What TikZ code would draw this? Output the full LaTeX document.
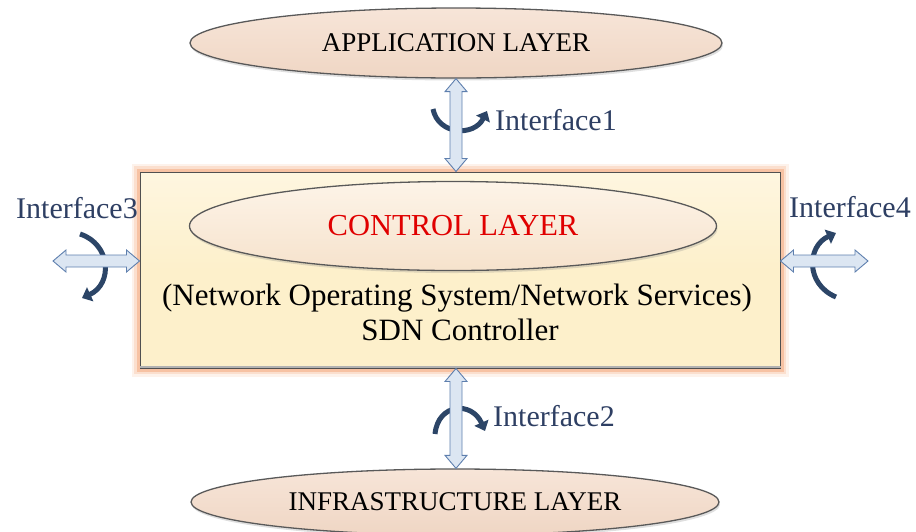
\documentclass[tikz,border=0pt]{standalone}
\usepackage{fontspec}
\setmainfont{Liberation Serif}
\usetikzlibrary{shapes.geometric,arrows.meta,shadows,calc,backgrounds}
\definecolor{ifacetext}{HTML}{2E3F63}
\definecolor{twist}{HTML}{2C4567}
\definecolor{arrowfill}{HTML}{DCE6F2}
\definecolor{arrowline}{HTML}{5E7FAE}
\definecolor{boxfill}{HTML}{FDF0CB}
\definecolor{boxline}{HTML}{505050}
\definecolor{glow}{HTML}{F4A678}
\definecolor{layertop}{HTML}{F7E5D8}
\definecolor{layerbot}{HTML}{EFD6C4}
\definecolor{ctltop}{HTML}{FDF4E8}
\definecolor{ctlbot}{HTML}{F6E2CC}
\definecolor{ctlred}{HTML}{E00000}

\begin{document}
\begin{tikzpicture}[x=1pt,y=-1pt,
  layer/.style={ellipse, draw=gray!70!black, line width=1.3pt, inner sep=0pt,
    top color=layertop, bottom color=layerbot,
    drop shadow={opacity=0.25, shadow xshift=1pt, shadow yshift=-2.5pt},
    font=\fontsize{27}{30}\selectfont},
  linkline/.style={draw=arrowline, fill=arrowfill, line width=0.9pt, line join=miter},
  twistarrow/.style={draw=twist, line width=5pt,
    -{Triangle[length=9pt,width=15pt]}},
  iface/.style={text=ifacetext, font=\fontsize{30}{33}\selectfont, inner sep=0pt},
  bodytext/.style={font=\fontsize{31}{33}\selectfont, inner sep=0pt}
]
\useasboundingbox (0,0) rectangle (916,531);
\clip (0,0) rectangle (916,531);

% application layer
\node[layer, minimum width=532pt, minimum height=70pt] (app) at (456,43) {APPLICATION LAYER};

% controller box with its orange glow
\node[draw=boxline, line width=1pt, top color=boxfill!60!white, bottom color=boxfill,
      middle color=boxfill, minimum width=640pt, minimum height=196pt,
      inner sep=0pt] (ctl) at (460,270) {};
\begin{scope}[on background layer]
  \foreach \w/\o in {16/0.15, 11/0.25, 6/0.5}
    \draw[glow, line width=\w pt, opacity=\o] (ctl.south west) rectangle (ctl.north east);
\end{scope}
\draw[gray!60, line width=2pt] ([yshift=1.5pt]ctl.south west) -- ([yshift=1.5pt]ctl.south east);

\node[layer, minimum width=527pt, minimum height=89pt, top color=ctltop, bottom color=ctlbot,
      text=ctlred, font=\fontsize{30.5}{32}\selectfont] (core) at (453,226) {CONTROL LAYER};
\node[bodytext] (nos) at (457,298) {(Network Operating System/Network Services)};
\node[bodytext] (sdn) at (460,330) {SDN Controller};

% infrastructure layer
\node[layer, minimum width=528pt, minimum height=66pt] (infra) at (455,502) {INFRASTRUCTURE LAYER};

% twisted arrows marking each interface
\draw[twistarrow] (433,109) .. controls (438,135) and (474,137) .. (487,111);
\draw[twistarrow] (435,434) .. controls (438,403) and (472,401) .. (485,431);
\draw[twistarrow] (80,234) .. controls (111,244) and (113,284) .. (82,298);
\draw[twistarrow] (836,297) .. controls (805,284) and (807,246) .. (836,233);

% interface links: hollow double-headed arrows between the layers
\coordinate (n1) at (app.south);
\coordinate (s1) at (app.south |- ctl.north);
\coordinate (n2) at (app.south |- ctl.south);
\coordinate (s2) at (app.south |- infra.north);
\coordinate (w3) at (53,261);
\coordinate (e3) at (ctl.west |- w3);
\coordinate (e4) at (868,261);
\coordinate (w4) at (ctl.east |- e4);

\foreach \t/\b in {n1/s1, n2/s2}
  \draw[linkline] (\t) -- ++(11,13) -- ++(-5,0) -- ($(\b)+(6,-13)$) -- ++(5,0)
    -- (\b) -- ++(-11,-13) -- ++(5,0) -- ($(\t)+(-6,13)$) -- ++(-5,0) -- cycle;
\foreach \l/\r in {w3/e3, w4/e4}
  \draw[linkline] (\l) -- ++(13,-11) -- ++(0,5) -- ($(\r)+(-13,-6)$) -- ++(0,-5)
    -- (\r) -- ++(-13,11) -- ++(0,-5) -- ($(\l)+(13,6)$) -- ++(0,5) -- cycle;

% interface labels
\node[iface, anchor=west] (t1) at (495,120) {Interface1};
\node[iface, anchor=west] (t2) at (493,416) {Interface2};
\node[iface] (t3) at (77,208) {Interface3};
\node[iface] (t4) at (850,207) {Interface4};
\end{tikzpicture}
\end{document}
